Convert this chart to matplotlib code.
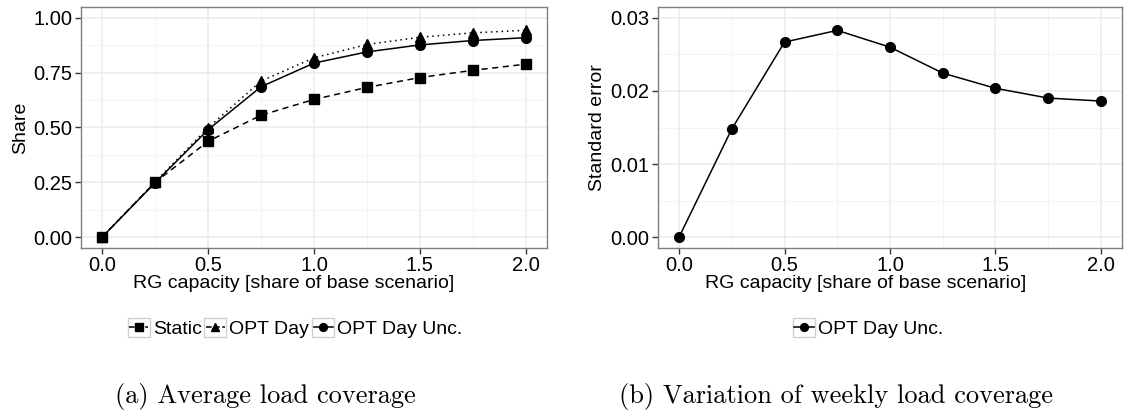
import matplotlib
matplotlib.use("Agg")
import matplotlib.pyplot as plt
from matplotlib.legend_handler import HandlerBase
from matplotlib.patches import Rectangle
from matplotlib.lines import Line2D
from matplotlib.ticker import MultipleLocator

# ---------------- data ----------------
capacity = [0.0, 0.25, 0.5, 0.75, 1.0, 1.25, 1.5, 1.75, 2.0]
static = [0.0, 0.25, 0.437, 0.556, 0.628, 0.683, 0.728, 0.761, 0.789]
opt_day = [0.0, 0.252, 0.499, 0.712, 0.818, 0.879, 0.912, 0.932, 0.944]
opt_day_unc = [0.0, 0.248, 0.490, 0.686, 0.794, 0.845, 0.877, 0.897, 0.910]
std_err = [0.0, 0.0148, 0.0267, 0.0283, 0.0260, 0.02245, 0.02037, 0.01903, 0.01862]

left_yticks = [0.00, 0.25, 0.50, 0.75, 1.00]
right_yticks = [0.00, 0.01, 0.02, 0.03]
xticks = [0.0, 0.5, 1.0, 1.5, 2.0]
xlabel = "RG capacity [share of base scenario]"
caption_a = "(a) Average load coverage"
caption_b = "(b) Variation of weekly load coverage"

plt.rcParams['font.family'] = ['Liberation Sans', 'DejaVu Sans']

FS = 14
TFS = 14.5
GRID = '#EBEBEB'
BORDER = '#7F7F7F'


class BoxHandler(HandlerBase):
    def create_artists(self, legend, orig_handle, xdescent, ydescent,
                       width, height, fontsize, trans):
        x0, y0 = -xdescent, -ydescent
        rect = Rectangle((x0, y0), width, height, facecolor='white',
                         edgecolor='#D0D0D0', lw=1.0, transform=trans)
        ym = y0 + height / 2
        ln = Line2D([x0 + 1, x0 + width - 1], [ym, ym],
                    linestyle=orig_handle.get_linestyle(), color='black',
                    lw=orig_handle.get_linewidth(), transform=trans)
        mk = Line2D([x0 + width / 2], [ym], linestyle='none',
                    marker=orig_handle.get_marker(), color='black',
                    markersize=orig_handle.get_markersize() * 0.8,
                    transform=trans)
        return [rect, ln, mk]


def style_axes(ax, ylim, yticks, yminor, label_x):
    ax.set_xlim(-0.1, 2.1)
    ax.set_ylim(*ylim)
    ax.set_xticks(xticks)
    ax.set_xticklabels([f"{v:.1f}" for v in xticks])
    ax.set_yticks(yticks)
    ax.xaxis.set_minor_locator(MultipleLocator(0.25))
    ax.yaxis.set_minor_locator(MultipleLocator(yminor))
    ax.grid(True, which='major', color=GRID, lw=1.1, zorder=0)
    ax.grid(True, which='minor', color='#F2F2F2', lw=0.6, zorder=0)
    ax.set_axisbelow(True)
    for s in ax.spines.values():
        s.set_color(BORDER)
        s.set_linewidth(1.0)
    ax.tick_params(which='major', length=4, width=1, color='#333333',
                   labelsize=TFS, labelcolor='black', pad=2)
    ax.tick_params(which='minor', length=0)
    ax.set_xlabel(xlabel, fontsize=FS)
    ax.xaxis.set_label_coords(label_x, -0.112, transform=ax.transAxes)


fig = plt.figure(figsize=(11.26, 4.17), dpi=100)

# ---- left panel ----
ax1 = fig.add_axes([81 / 1126, 1 - 248 / 417, (547 - 81) / 1126, 241 / 417])
l1, = ax1.plot(capacity, static, color='black', ls=(0, (4, 3)), lw=1.1,
               marker='s', markersize=6.5, zorder=3, label='Static')
l2, = ax1.plot(capacity, opt_day, color='black', ls=(0, (1, 2.5)), lw=1.1,
               marker='^', markersize=7.5, zorder=3, label='OPT Day')
l3, = ax1.plot(capacity, opt_day_unc, color='black', ls='-', lw=1.1,
               marker='o', markersize=7, zorder=3, label='OPT Day Unc.')
style_axes(ax1, (-0.05, 1.05), left_yticks, 0.125, (294 - 81) / 466)
ax1.set_yticklabels([f"{v:.2f}" for v in left_yticks])
ax1.set_ylabel("Share", fontsize=FS, labelpad=3)

fig.legend(handles=[l1, l2, l3], loc='center',
           bbox_to_anchor=(295 / 1126, 1 - 328 / 417), ncol=3,
           frameon=False, fontsize=FS, handler_map={Line2D: BoxHandler()},
           handlelength=1.13, handleheight=1.13, handletextpad=0.15,
           columnspacing=0.15, borderpad=0, borderaxespad=0)

# ---- right panel ----
ax2 = fig.add_axes([658 / 1126, 1 - 248 / 417, (1122 - 658) / 1126, 241 / 417])
l4, = ax2.plot(capacity, std_err, color='black', ls='-', lw=1.1,
               marker='o', markersize=7, zorder=3, label='OPT Day Unc.')
style_axes(ax2, (-0.0015, 0.0315), right_yticks, 0.005, (866 - 658) / 464)
ax2.set_yticklabels([f"{v:.2f}" for v in right_yticks])
ax2.set_ylabel("Standard error", fontsize=FS, labelpad=3)

fig.legend(handles=[l4], loc='center',
           bbox_to_anchor=(868 / 1126, 1 - 328 / 417), ncol=1,
           frameon=False, fontsize=FS, handler_map={Line2D: BoxHandler()},
           handlelength=1.13, handleheight=1.13, handletextpad=0.15,
           borderpad=0, borderaxespad=0)

# ---- captions ----
fig.text(265 / 1126, 1 - 397 / 417, caption_a, family='cmr10', fontsize=19,
         ha='center', va='center')
fig.text(836 / 1126, 1 - 397 / 417, caption_b, family='cmr10', fontsize=19,
         ha='center', va='center')

fig.savefig("out.png", dpi=100)
